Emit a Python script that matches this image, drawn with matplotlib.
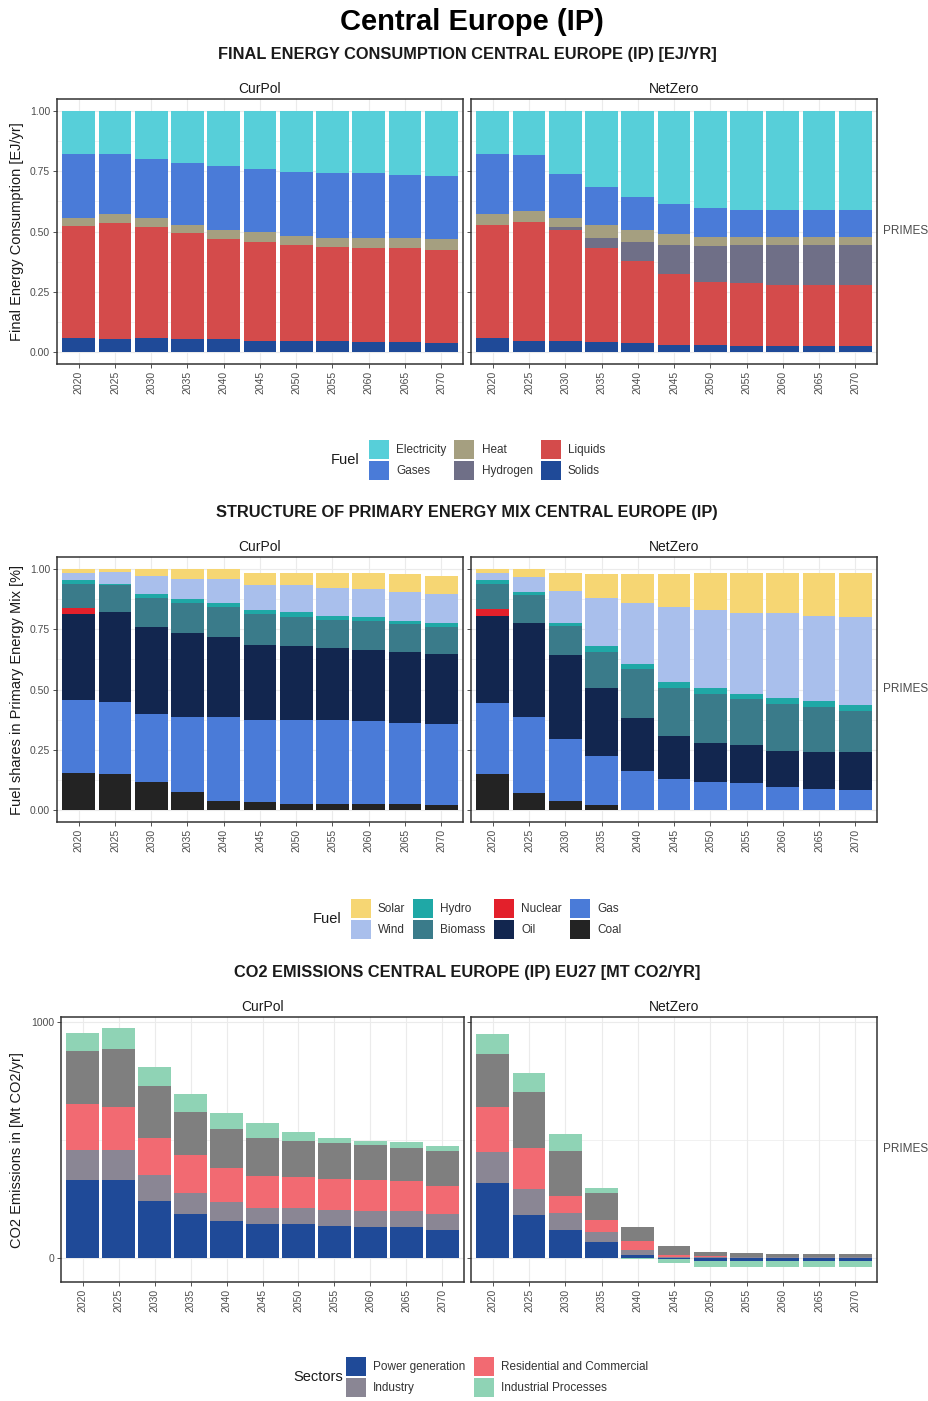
import matplotlib
matplotlib.use("Agg")
import matplotlib.pyplot as plt
from matplotlib.patches import Patch
from matplotlib.ticker import FixedLocator
import numpy as np

plt.rcParams['font.family'] = ['Liberation Sans', 'DejaVu Sans']

years = [2020, 2025, 2030, 2035, 2040, 2045, 2050, 2055, 2060, 2065, 2070]
scenarios = ["CurPol", "NetZero"]
facet_label = "PRIMES"

# ---- Final energy consumption (shares) ----
fe_fuels = ["Electricity", "Gases", "Heat", "Hydrogen", "Liquids", "Solids"]
fe_colors = ["#57cfd9", "#4a7bd8", "#a59f80", "#6f6f87", "#d44b4b", "#1f4a98"]

fe_curpol_electricity = [0.179, 0.179, 0.201, 0.215, 0.227, 0.240, 0.252, 0.259, 0.259, 0.265, 0.270]
fe_curpol_gases = [0.263, 0.249, 0.244, 0.257, 0.265, 0.263, 0.265, 0.267, 0.270, 0.264, 0.263]
fe_curpol_heat = [0.034, 0.036, 0.037, 0.034, 0.040, 0.041, 0.040, 0.039, 0.040, 0.040, 0.042]
fe_curpol_hydrogen = [0, 0, 0, 0, 0, 0, 0, 0, 0, 0, 0]
fe_curpol_liquids = [0.464, 0.482, 0.458, 0.440, 0.414, 0.410, 0.397, 0.389, 0.391, 0.391, 0.389]
fe_curpol_solids = [0.060, 0.054, 0.060, 0.054, 0.054, 0.046, 0.046, 0.046, 0.040, 0.040, 0.036]

fe_netzero_electricity = [0.179, 0.184, 0.263, 0.317, 0.355, 0.386, 0.404, 0.411, 0.411, 0.411, 0.411]
fe_netzero_gases = [0.249, 0.232, 0.180, 0.158, 0.139, 0.126, 0.117, 0.110, 0.110, 0.110, 0.110]
fe_netzero_heat = [0.043, 0.044, 0.039, 0.051, 0.050, 0.043, 0.040, 0.034, 0.034, 0.034, 0.034]
fe_netzero_hydrogen = [0, 0, 0.011, 0.043, 0.078, 0.122, 0.147, 0.160, 0.165, 0.165, 0.165]
fe_netzero_liquids = [0.469, 0.494, 0.461, 0.391, 0.342, 0.294, 0.263, 0.261, 0.256, 0.256, 0.256]
fe_netzero_solids = [0.060, 0.046, 0.046, 0.040, 0.036, 0.029, 0.029, 0.024, 0.024, 0.024, 0.024]

# ---- Primary energy mix (shares) ----
pe_fuels = ["Solar", "Wind", "Hydro", "Biomass", "Nuclear", "Oil", "Gas", "Coal"]
pe_colors = ["#f6d673", "#a9bfec", "#1fa8a6", "#3a7b8a", "#e3202b", "#12264f", "#4a7bd8", "#232323"]

pe_curpol_solar = [0.017, 0.014, 0.029, 0.042, 0.042, 0.048, 0.048, 0.061, 0.066, 0.074, 0.073]
pe_curpol_wind = [0.030, 0.046, 0.073, 0.084, 0.097, 0.103, 0.115, 0.115, 0.115, 0.120, 0.121]
pe_curpol_hydro = [0.013, 0.006, 0.020, 0.017, 0.018, 0.019, 0.018, 0.018, 0.018, 0.013, 0.018]
pe_curpol_biomass = [0.101, 0.114, 0.119, 0.123, 0.127, 0.127, 0.123, 0.116, 0.118, 0.117, 0.111]
pe_curpol_nuclear = [0.026, 0, 0, 0, 0, 0, 0, 0, 0, 0, 0]
pe_curpol_oil = [0.355, 0.373, 0.360, 0.348, 0.330, 0.312, 0.305, 0.299, 0.298, 0.293, 0.293]
pe_curpol_gas = [0.303, 0.299, 0.283, 0.311, 0.349, 0.342, 0.348, 0.348, 0.342, 0.335, 0.334]
pe_curpol_coal = [0.155, 0.148, 0.116, 0.075, 0.037, 0.032, 0.026, 0.026, 0.026, 0.026, 0.021]

pe_netzero_solar = [0.017, 0.035, 0.073, 0.100, 0.118, 0.136, 0.153, 0.164, 0.164, 0.178, 0.184]
pe_netzero_wind = [0.030, 0.059, 0.133, 0.199, 0.255, 0.309, 0.322, 0.336, 0.354, 0.352, 0.364]
pe_netzero_hydro = [0.013, 0.014, 0.014, 0.025, 0.021, 0.025, 0.025, 0.023, 0.025, 0.024, 0.024]
pe_netzero_biomass = [0.105, 0.115, 0.120, 0.146, 0.203, 0.201, 0.207, 0.190, 0.195, 0.189, 0.171]
pe_netzero_nuclear = [0.030, 0, 0, 0, 0, 0, 0, 0, 0, 0, 0]
pe_netzero_oil = [0.363, 0.391, 0.347, 0.285, 0.220, 0.177, 0.158, 0.158, 0.151, 0.153, 0.158]
pe_netzero_gas = [0.294, 0.317, 0.259, 0.202, 0.161, 0.130, 0.118, 0.112, 0.094, 0.087, 0.082]
pe_netzero_coal = [0.148, 0.069, 0.037, 0.021, 0, 0, 0, 0, 0, 0, 0]

# ---- CO2 emissions by sector [Mt CO2/yr] ----
co2_sectors = ["Industrial Processes", "Transport", "Residential and Commercial", "Industry", "Power generation"]
co2_colors = ["#8fd3b5", "#7f7f7f", "#f26a72", "#8a8694", "#1f4a98"]
co2_legend_sectors = ["Power generation", "Industry", "Residential and Commercial", "Industrial Processes"]

co2_curpol_indproc = [79, 88, 80, 74, 70, 60, 37, 25, 18, 27, 19]
co2_curpol_transport = [224, 248, 219, 185, 165, 164, 155, 150, 149, 141, 150]
co2_curpol_residential = [193, 180, 157, 158, 145, 135, 131, 132, 133, 127, 118]
co2_curpol_industry = [128, 128, 109, 91, 80, 67, 67, 66, 66, 66, 68]
co2_curpol_power = [331, 331, 242, 186, 155, 144, 144, 137, 131, 131, 118]

co2_netzero_indproc = [86, 78, 71, 20, -5, -17, -28, -28, -28, -28, -28]
co2_netzero_transport = [226, 241, 192, 116, 61, 35, 18, 14, 11, 11, 11]
co2_netzero_residential = [187, 173, 71, 48, 36, 10, 4, 3, 3, 3, 3]
co2_netzero_industry = [132, 108, 72, 43, 21, 4, 3, 3, 2, 2, 2]
co2_netzero_power = [319, 183, 119, 68, 14, -3, -12, -12, -12, -12, -12]

fe_data = {
    "CurPol": [fe_curpol_electricity, fe_curpol_gases, fe_curpol_heat,
               fe_curpol_hydrogen, fe_curpol_liquids, fe_curpol_solids],
    "NetZero": [fe_netzero_electricity, fe_netzero_gases, fe_netzero_heat,
                fe_netzero_hydrogen, fe_netzero_liquids, fe_netzero_solids],
}
pe_data = {
    "CurPol": [pe_curpol_solar, pe_curpol_wind, pe_curpol_hydro, pe_curpol_biomass,
               pe_curpol_nuclear, pe_curpol_oil, pe_curpol_gas, pe_curpol_coal],
    "NetZero": [pe_netzero_solar, pe_netzero_wind, pe_netzero_hydro, pe_netzero_biomass,
                pe_netzero_nuclear, pe_netzero_oil, pe_netzero_gas, pe_netzero_coal],
}
co2_data = {
    "CurPol": [co2_curpol_indproc, co2_curpol_transport, co2_curpol_residential,
               co2_curpol_industry, co2_curpol_power],
    "NetZero": [co2_netzero_indproc, co2_netzero_transport, co2_netzero_residential,
                co2_netzero_industry, co2_netzero_power],
}

W, H = 929, 1401
fig = plt.figure(figsize=(W / 100, H / 100), dpi=100)
fig.patch.set_facecolor("white")

TXT = "#4d4d4d"
BORDER = "#333333"
GRID = "#ebebeb"


def px_axes(x0, y0, x1, y1):
    return fig.add_axes([x0 / W, 1 - y1 / H, (x1 - x0) / W, (y1 - y0) / H])


def stacked(ax, series, colors):
    """Stack series like ggplot: first series on top, negatives stacked below zero."""
    x = np.arange(len(years))
    pos = np.zeros(len(years))
    neg = np.zeros(len(years))
    for vals, col in zip(series[::-1], colors[::-1]):
        v = np.asarray(vals, dtype=float)
        base = np.where(v >= 0, pos, neg)
        ax.bar(x, v, width=0.9, bottom=base, color=col, linewidth=0, zorder=2)
        pos = pos + np.where(v >= 0, v, 0)
        neg = neg + np.where(v < 0, v, 0)


def style(ax, title, yticks, ylabels, yminor, ylim, show_y, show_facet):
    ax.set_xlim(-0.6, len(years) - 0.4)
    ax.set_ylim(*ylim)
    ax.set_xticks(np.arange(len(years)))
    ax.set_xticklabels([str(y) for y in years], rotation=90, fontsize=7.5, color=TXT)
    ax.set_yticks(yticks)
    ax.yaxis.set_minor_locator(FixedLocator(yminor))
    if show_y:
        ax.set_yticklabels(ylabels, fontsize=7.5, color=TXT)
    else:
        ax.set_yticklabels([])
    ax.tick_params(axis="both", which="major", length=3, width=0.6, color=BORDER, pad=2)
    ax.tick_params(axis="y", which="minor", length=0)
    ax.grid(True, which="major", color=GRID, linewidth=0.8, zorder=0)
    ax.grid(True, which="minor", axis="y", color=GRID, linewidth=0.5, zorder=0)
    ax.set_axisbelow(True)
    for s in ax.spines.values():
        s.set_color(BORDER)
        s.set_linewidth(1.1)
    ax.set_title(title, fontsize=10, color="#1a1a1a", pad=4)
    if show_facet:
        ax.text(1.015, 0.5, facet_label, transform=ax.transAxes, ha="left",
                va="center", fontsize=8.5, color=TXT)


# ---- Titles ----
fig.text(472 / W, 1 - 22 / H, "Central Europe (IP)", ha="center", va="center",
         fontsize=21, fontweight="bold", color="black")

subtitles = [
    (55, "FINAL ENERGY CONSUMPTION CENTRAL EUROPE (IP) [EJ/YR]"),
    (513, "STRUCTURE OF PRIMARY ENERGY MIX CENTRAL EUROPE (IP)"),
    (972, "CO2 EMISSIONS CENTRAL EUROPE (IP) EU27 [MT CO2/YR]"),
]
for yy, t in subtitles:
    fig.text(467 / W, 1 - yy / H, t, ha="center", va="center", fontsize=11.8,
             fontweight="bold", color="#1a1a1a")

share_ticks = [0, 0.25, 0.5, 0.75, 1.0]
share_labels = ["0.00", "0.25", "0.50", "0.75", "1.00"]
share_minor = [0.125, 0.375, 0.625, 0.875]

# ---- Final energy panels ----
panel_x = [(57, 463), (471, 877)]
for i, sc in enumerate(scenarios):
    ax = px_axes(panel_x[i][0], 99, panel_x[i][1], 364)
    stacked(ax, fe_data[sc], fe_colors)
    style(ax, sc, share_ticks, share_labels, share_minor, (-0.05, 1.05), i == 0, i == 1)
fig.text(17 / W, 1 - 232 / H, "Final Energy Consumption [EJ/yr]", rotation=90,
         ha="center", va="center", fontsize=10.5, color="#1a1a1a")

# ---- Primary energy panels ----
for i, sc in enumerate(scenarios):
    ax = px_axes(panel_x[i][0], 557, panel_x[i][1], 822)
    stacked(ax, pe_data[sc], pe_colors)
    style(ax, sc, share_ticks, share_labels, share_minor, (-0.05, 1.05), i == 0, i == 1)
fig.text(17 / W, 1 - 690 / H, "Fuel shares in Primary Energy Mix [%]", rotation=90,
         ha="center", va="center", fontsize=10.5, color="#1a1a1a")

# ---- CO2 panels ----
co2_x = [(61, 464), (471, 877)]
for i, sc in enumerate(scenarios):
    ax = px_axes(co2_x[i][0], 1017, co2_x[i][1], 1282)
    stacked(ax, co2_data[sc], co2_colors)
    style(ax, sc, [0, 1000], ["0", "1000"], [500], (-102, 1021), i == 0, i == 1)
fig.text(17 / W, 1 - 1150 / H, "CO2 Emissions in [Mt CO2/yr]", rotation=90,
         ha="center", va="center", fontsize=10.5, color="#1a1a1a")


# ---- Legends ----
def legend(names, colors, ncol, cx, cy, title, tx):
    handles = [Patch(facecolor=c, edgecolor="none") for c in colors]
    fig.legend(handles, names, loc="center", bbox_to_anchor=(cx / W, 1 - cy / H),
               ncol=ncol, frameon=False, fontsize=8.5, handlelength=1.7,
               handleheight=2.2, handletextpad=0.6, columnspacing=0.7,
               labelspacing=0.1, borderpad=0, labelcolor="#333333")
    fig.text(tx / W, 1 - cy / H, title, ha="center", va="center", fontsize=10.5,
             color="#1a1a1a")


legend(fe_fuels, fe_colors, 3, 487, 460, "Fuel", 345)
legend(pe_fuels, pe_colors, 4, 486, 919, "Fuel", 327)
co2_leg_colors = [co2_colors[co2_sectors.index(s)] for s in co2_legend_sectors]
legend(co2_legend_sectors, co2_leg_colors, 2, 497, 1377, "Sectors", 318)

fig.savefig("out.png", dpi=100)
